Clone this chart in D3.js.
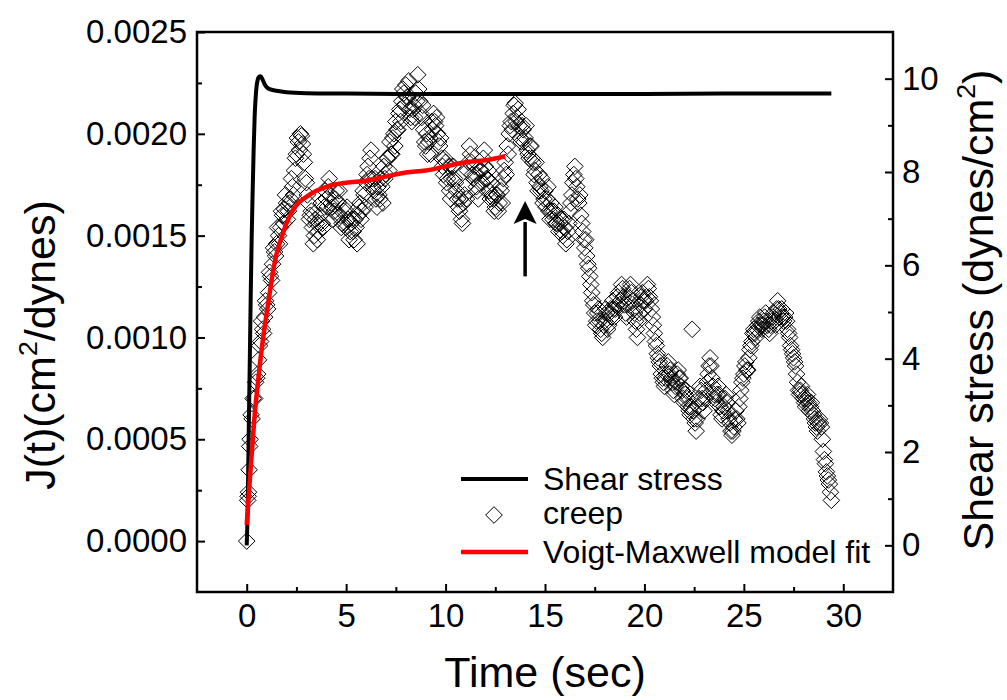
<!DOCTYPE html>
<html>
<head>
<meta charset="utf-8">
<script src="https://cdn.jsdelivr.net/npm/d3@7"></script>
<style>
  html, body { margin: 0; padding: 0; background: #fff; }
  svg { display: block; font-family: "Liberation Sans", Arial, sans-serif; }
</style>
</head>
<body>
<svg id="chart" width="1007" height="700"></svg>
<script>
// ---- Shear stress (right axis, dynes/cm^2) ----
const stressTime = [0, 0.05, 0.1, 0.15, 0.2, 0.25, 0.3, 0.35, 0.4, 0.45, 0.5, 0.55, 0.6, 0.7,
  0.8, 0.9, 1.0, 1.2, 1.5, 2.0, 3.0, 5.0, 8.0, 12.0, 16.0, 20.0, 24.0, 28.0, 29.4];
const stressValue = [0, 0.8, 2.4, 3.8, 5.3, 6.6, 7.6, 8.5, 9.2, 9.6, 9.85, 9.97, 10.03, 10.05,
  9.98, 9.88, 9.82, 9.77, 9.74, 9.71, 9.69, 9.68, 9.67, 9.67, 9.67, 9.67, 9.68, 9.68, 9.68];

// ---- Voigt-Maxwell model fit (left axis, units of 1e-4 cm^2/dyn) ----
const fitTime = [0, 0.1, 0.2, 0.3, 0.4, 0.5, 0.7, 0.9, 1.1, 1.3, 1.5, 1.75, 2.0, 2.5, 3.0, 3.5,
  4.0, 5.0, 6.0, 7.0, 8.0, 9.0, 10.0, 11.0, 12.0, 13.0];
const fitValue = [0.8, 2.2, 3.6, 4.9, 6.2, 7.2, 9.0, 10.5, 11.8, 13.1, 14.1, 14.9, 15.6, 16.5, 16.9,
  17.2, 17.4, 17.6, 17.7, 17.9, 18.1, 18.2, 18.4, 18.6, 18.7, 18.9];

// ---- Creep compliance J(t) (left axis, units of 1e-4 cm^2/dyn) ----
// first samples during the stress ramp
const creepEarlyTime = [0, 0.05, 0.07, 0.09, 0.12, 0.15, 0.17, 0.22, 0.27, 0.32];
const creepEarlyValue = [0, 2.0, 2.2, 2.4, 3.5, 4.65, 5.0, 6.2, 6.0, 7.0];
// then one sample every 0.05 s from t = 0.4 s, split into the samples on whole
// tenths (0.4, 0.5, ...) and those in between (0.45, 0.55, ...)
const creepStart = 0.4, creepStep = 0.1;
const creepValue = [
  7.0, 8.0, 8.9, 9.8, 10.4, 11.0, 11.6, 12.2, 13.0, 13.6,
  14.2, 14.6, 15.0, 15.4, 16.0, 16.3, 16.6, 16.2, 16.8, 17.4,
  18.2, 19.0, 19.6, 20.0, 19.5, 18.6, 17.6, 16.6, 16.0, 15.4,
  15.0, 15.6, 15.2, 16.0, 15.6, 16.4, 16.8, 17.4, 17.0, 16.4,
  16.2, 17.2, 16.6, 16.0, 15.6, 16.2, 15.4, 15.8, 15.2, 15.8,
  14.8, 15.4, 16.0, 16.6, 16.2, 17.0, 17.6, 18.4, 18.8, 17.8,
  17.2, 16.8, 17.4, 16.8, 17.4, 18.4, 18.0, 18.8, 19.6, 19.0,
  20.0, 20.6, 20.2, 21.2, 21.6, 22.0, 22.4, 21.8, 21.2, 20.6,
  21.4, 22.0, 22.9, 21.6, 20.8, 20.2, 19.4, 19.0, 19.8, 20.6,
  21.0, 20.4, 20.0, 19.4, 18.8, 18.0, 18.6, 17.8, 17.2, 17.8,
  18.4, 17.6, 16.8, 16.2, 15.8, 16.6, 17.4, 18.2, 19.4, 18.6,
  17.8, 18.0, 17.2, 17.6, 18.2, 18.8, 18.4, 17.8, 17.2, 17.6,
  16.8, 16.4, 17.0, 16.6, 17.2, 17.8, 18.6, 19.4, 20.0, 20.6,
  21.0, 21.5, 20.8, 20.4, 19.6, 20.2, 19.8, 19.2, 18.8, 19.4,
  18.6, 18.2, 17.6, 18.0, 17.2, 16.6, 17.2, 16.8, 16.2, 16.6,
  15.8, 16.4, 15.6, 15.2, 15.8, 15.0, 15.4, 14.8, 15.6, 16.6,
  17.6, 18.4, 17.4, 16.6, 16.0, 15.2, 14.4, 14.0, 13.4, 12.6,
  11.8, 11.2, 10.8, 11.4, 10.4, 10.0, 10.8, 11.2, 10.6, 11.4,
  11.8, 11.0, 11.6, 12.2, 11.8, 12.4, 11.6, 11.0, 12.0, 12.6,
  11.8, 11.2, 10.4, 10.8, 11.6, 12.2, 11.4, 12.0, 12.4, 11.8,
  11.0, 10.2, 9.6, 9.0, 8.6, 8.0, 7.6, 8.2, 8.8, 8.4,
  7.8, 7.2, 7.8, 8.4, 8.0, 7.4, 6.8, 7.4, 6.6, 6.2,
  10.4, 6.0, 5.4, 6.6, 7.6, 7.0, 6.4, 7.4, 8.2, 9.0,
  8.0, 7.2, 6.8, 7.6, 6.6, 6.0, 6.6, 7.2, 6.4, 5.8,
  5.2, 5.6, 6.4, 5.8, 7.0, 7.8, 8.2, 8.8, 8.4, 9.4,
  9.8, 10.4, 10.0, 10.6, 11.0, 10.4, 10.8, 11.2, 10.6, 10.2,
  10.8, 11.2, 10.6, 11.8, 11.0, 11.4, 10.8, 11.2, 10.4, 10.0,
  9.4, 9.0, 8.6, 7.8, 7.2, 7.6, 7.0, 6.6, 7.2, 6.4,
  6.8, 6.2, 5.8, 5.4, 6.0, 5.6, 4.4, 3.8, 3.2, 2.8,
  2.0
];
const creepValueMid = [
  7.8, 8.2, 9.6, 10.8, 10.2, 11.8, 11.4, 13.2, 12.8, 14.4,
  14.0, 15.4, 14.6, 16.2, 15.6, 17.0, 15.8, 16.6, 17.8, 17.0,
  18.8, 19.8, 19.2, 19.9, 19.0, 17.8, 17.0, 15.8, 16.2, 14.6,
  15.8, 14.8, 15.6, 16.6, 15.4, 17.2, 16.4, 17.8, 16.6, 15.8,
  16.8, 16.0, 17.2, 15.4, 16.4, 15.6, 16.4, 14.8, 15.6, 15.2,
  15.8, 14.6, 16.4, 15.8, 17.2, 16.4, 18.0, 17.8, 19.2, 17.4,
  17.8, 16.4, 17.0, 17.8, 16.6, 17.8, 18.8, 18.2, 19.0, 19.8,
  19.4, 20.2, 21.0, 20.6, 22.2, 21.4, 21.8, 22.6, 20.8, 21.2,
  20.8, 21.6, 22.2, 21.0, 21.4, 19.6, 20.0, 19.6, 19.0, 20.2,
  20.6, 20.8, 19.6, 19.8, 18.4, 18.8, 17.6, 18.4, 16.8, 18.4,
  17.8, 17.2, 16.4, 16.8, 15.6, 17.0, 16.8, 18.6, 19.0, 18.0,
  18.4, 17.4, 16.8, 18.2, 17.6, 19.2, 17.8, 18.2, 16.8, 17.0,
  16.2, 17.0, 16.2, 17.4, 16.6, 18.2, 18.0, 19.0, 20.4, 20.2,
  21.4, 20.6, 21.2, 19.8, 20.4, 19.6, 20.4, 19.0, 19.4, 18.8,
  18.0, 18.6, 17.2, 17.4, 17.8, 16.8, 16.4, 17.4, 15.8, 16.2,
  16.2, 15.6, 16.0, 15.6, 15.2, 15.8, 14.6, 15.2, 16.2, 17.0,
  18.0, 17.8, 16.8, 17.0, 15.6, 14.8, 14.8, 13.6, 13.0, 12.2,
  11.6, 10.6, 11.2, 10.8, 10.2, 10.6, 11.4, 10.4, 11.2, 11.0,
  11.4, 11.4, 12.0, 11.6, 12.6, 12.0, 11.2, 11.6, 12.4, 12.2,
  11.4, 10.8, 10.0, 11.2, 12.0, 11.8, 11.8, 12.6, 12.0, 11.4,
  10.6, 9.8, 9.2, 8.8, 8.2, 7.8, 8.0, 8.6, 8.2, 8.0,
  7.4, 7.6, 8.2, 8.0, 7.6, 7.0, 7.2, 7.0, 6.4, 6.6,
  6.4, 5.8, 6.0, 7.0, 7.4, 6.8, 7.0, 7.8, 8.6, 8.6,
  7.6, 7.0, 7.2, 7.2, 6.2, 6.4, 7.0, 6.8, 6.0, 5.4,
  5.4, 6.0, 6.0, 6.6, 7.4, 8.0, 8.6, 8.4, 9.0, 9.6,
  10.2, 10.2, 10.4, 10.8, 10.6, 10.6, 11.0, 10.8, 10.4, 10.6,
  11.0, 10.8, 11.4, 11.4, 11.2, 11.0, 11.0, 10.8, 10.2, 9.6,
  9.2, 8.8, 8.2, 7.4, 7.4, 7.2, 6.8, 7.0, 6.8, 6.6,
  6.4, 6.0, 5.6, 5.8, 5.8, 5.0, 4.0, 3.4, 3.0, 2.4
];
const complianceUnit = 1e-4;

// ---- Axis ticks ----
const timeTicks = [0, 5, 10, 15, 20, 25, 30];
const timeMinorTicks = [2.5, 7.5, 12.5, 17.5, 22.5, 27.5];
const jTicks = [0, 0.0005, 0.0010, 0.0015, 0.0020, 0.0025];
const jMinorTicks = [0.00025, 0.00075, 0.00125, 0.00175, 0.00225];
const stressTicks = [0, 2, 4, 6, 8, 10];
const stressMinorTicks = [1, 3, 5, 7, 9];

// marker arrow at t = 14 s
const arrowTime = 14;
const arrowFrom = 0.00130, arrowTo = 0.00167;

// ---- Layout ----
const svg = d3.select("#chart");
const plot = { left: 197, right: 893, top: 32, bottom: 592 };

const x = d3.scaleLinear().domain([-2.5, 32.5]).range([plot.left, plot.right]);
const yJ = d3.scaleLinear().domain([-0.00025, 0.0025]).range([plot.bottom, plot.top]);
const yS = d3.scaleLinear().domain([-1, 11]).range([plot.bottom, plot.top]);

const tickFont = 33, legendFont = 32, titleFont = 43;

// ---- Creep diamonds ----
const creep = creepEarlyTime.map((t, i) => ({ t, j: creepEarlyValue[i] }))
  .concat(creepValue.map((v, i) => ({ t: creepStart + i * creepStep, j: v })))
  .concat(creepValueMid.map((v, i) => ({ t: creepStart + creepStep / 2 + i * creepStep, j: v })))
  .map(d => ({ t: d.t, j: d.j * complianceUnit }));

const diamond = r => `M0,${-r}L${r},0L0,${r}L${-r},0Z`;
svg.append("g")
  .selectAll("path")
  .data(creep)
  .join("path")
  .attr("d", diamond(8.3))
  .attr("transform", d => `translate(${x(d.t)},${yJ(d.j)})`)
  .attr("fill", "none")
  .attr("stroke", "#000")
  .attr("stroke-width", 1);

// ---- Shear stress line ----
const stressLine = d3.line()
  .x((d, i) => x(stressTime[i]))
  .y(d => yS(d))
  .curve(d3.curveMonotoneX);
svg.append("path")
  .attr("d", stressLine(stressValue))
  .attr("fill", "none")
  .attr("stroke", "#000")
  .attr("stroke-width", 4)
  .attr("stroke-linejoin", "round");

// ---- Model fit line ----
const fitLine = d3.line()
  .x((d, i) => x(fitTime[i]))
  .y(d => yJ(d * complianceUnit))
  .curve(d3.curveMonotoneX);
svg.append("path")
  .attr("d", fitLine(fitValue))
  .attr("fill", "none")
  .attr("stroke", "#ff0000")
  .attr("stroke-width", 4.5)
  .attr("stroke-linejoin", "round");

// ---- Arrow ----
const ax = x(arrowTime), aTip = yJ(arrowTo), aTail = yJ(arrowFrom);
const headLen = 23, headHalf = 11.5;
svg.append("line")
  .attr("x1", ax).attr("x2", ax)
  .attr("y1", aTail).attr("y2", aTip + headLen - 2)
  .attr("stroke", "#000").attr("stroke-width", 3.5);
svg.append("path")
  .attr("d", `M${ax},${aTip}L${ax + headHalf},${aTip + headLen}L${ax},${aTip + headLen - 5}L${ax - headHalf},${aTip + headLen}Z`)
  .attr("fill", "#000");

// ---- Axes ----
function styleAxis(g) {
  g.select(".domain").remove();
  g.selectAll(".tick line").attr("stroke", "#000").attr("stroke-width", 2);
  g.selectAll(".tick text").attr("fill", "#000").attr("font-size", tickFont)
    .attr("font-family", "'Liberation Sans', Arial, sans-serif");
}

svg.append("g").attr("transform", `translate(0,${plot.bottom})`)
  .call(d3.axisBottom(x).tickValues(timeTicks).tickFormat(d3.format("d")).tickSize(-8).tickPadding(12))
  .call(styleAxis);
svg.append("g").attr("transform", `translate(0,${plot.bottom})`)
  .call(d3.axisBottom(x).tickValues(timeMinorTicks).tickFormat("").tickSize(-5))
  .call(styleAxis);

svg.append("g").attr("transform", `translate(${plot.left},0)`)
  .call(d3.axisLeft(yJ).tickValues(jTicks).tickFormat(d3.format(".4f")).tickSize(-8).tickPadding(10))
  .call(styleAxis);
svg.append("g").attr("transform", `translate(${plot.left},0)`)
  .call(d3.axisLeft(yJ).tickValues(jMinorTicks).tickFormat("").tickSize(-5))
  .call(styleAxis);

svg.append("g").attr("transform", `translate(${plot.right},0)`)
  .call(d3.axisRight(yS).tickValues(stressTicks).tickFormat(d3.format("d")).tickSize(-8).tickPadding(9))
  .call(styleAxis);
svg.append("g").attr("transform", `translate(${plot.right},0)`)
  .call(d3.axisRight(yS).tickValues(stressMinorTicks).tickFormat("").tickSize(-5))
  .call(styleAxis);

// frame
svg.append("rect")
  .attr("x", plot.left).attr("y", plot.top)
  .attr("width", plot.right - plot.left).attr("height", plot.bottom - plot.top)
  .attr("fill", "none").attr("stroke", "#000").attr("stroke-width", 2.5);

// ---- Axis titles ----
svg.append("text")
  .attr("x", (plot.left + plot.right) / 2).attr("y", 687)
  .attr("text-anchor", "middle").attr("font-size", titleFont)
  .text("Time (sec)");

function titleWithSup(g, before, sup, after) {
  const t = g.append("text").attr("text-anchor", "middle").attr("font-size", titleFont);
  t.append("tspan").text(before);
  t.append("tspan").attr("font-size", titleFont * 0.62).attr("dy", -titleFont * 0.42).text(sup);
  t.append("tspan").attr("dy", titleFont * 0.42).text(after);
}
titleWithSup(svg.append("g").attr("transform", "translate(55,345) rotate(-90)"),
  "J(t)(cm", "2", "/dynes)");
titleWithSup(svg.append("g").attr("transform", "translate(993,310) rotate(-90)"),
  "Shear stress (dynes/cm", "2", ")");

// ---- Legend ----
const legend = svg.append("g").attr("font-size", legendFont);
legend.append("line").attr("x1", 461).attr("x2", 528).attr("y1", 479).attr("y2", 479)
  .attr("stroke", "#000").attr("stroke-width", 4);
legend.append("text").attr("x", 543).attr("y", 490).text("Shear stress");
legend.append("path").attr("d", diamond(8.3)).attr("transform", "translate(494,515)")
  .attr("fill", "none").attr("stroke", "#000").attr("stroke-width", 1);
legend.append("text").attr("x", 543).attr("y", 524).text("creep");
legend.append("line").attr("x1", 461).attr("x2", 528).attr("y1", 552).attr("y2", 552)
  .attr("stroke", "#ff0000").attr("stroke-width", 4.5);
legend.append("text").attr("x", 543).attr("y", 563).text("Voigt-Maxwell model fit");
</script>
</body>
</html>
